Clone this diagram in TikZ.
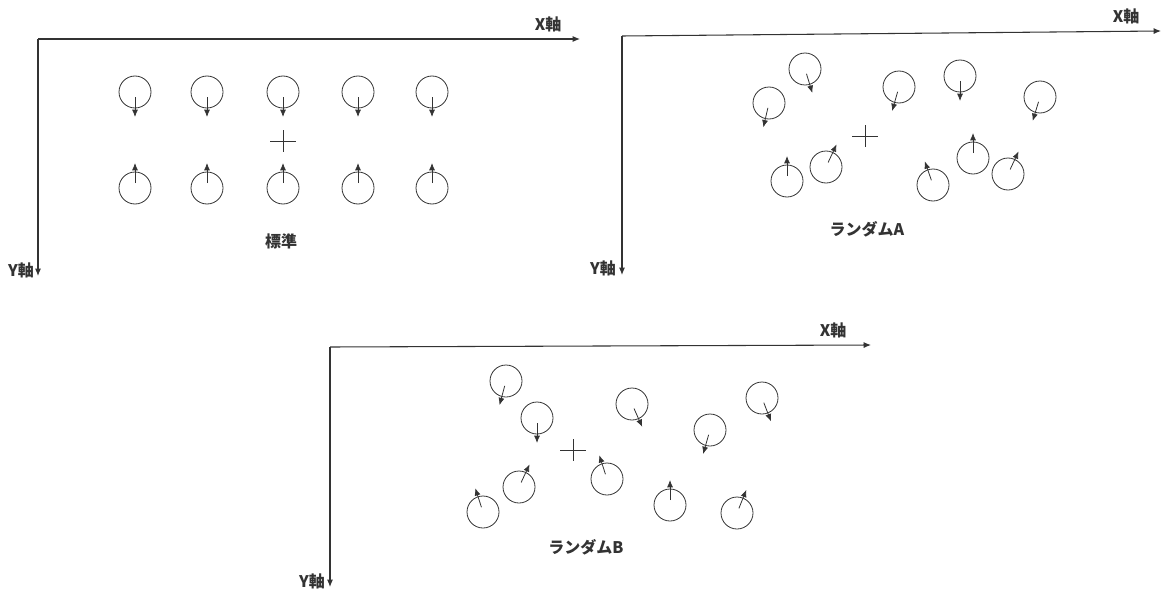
\documentclass[tikz,border=0pt]{standalone}
\usepackage{fontspec}
\setmainfont{Noto Sans CJK JP}
\usetikzlibrary{calc,arrows.meta}
\begin{document}
\begin{tikzpicture}[x=0.75pt,y=-0.75pt,
  ink/.style={black!80},
  axis/.style={ink,line width=0.8pt,-{Latex[length=5.5pt,width=4.5pt]}},
  spin/.style={ink,circle,draw,line width=0.6pt,minimum size=24pt,inner sep=0pt},
  vec/.style={ink,line width=0.6pt,-{Latex[length=5.5pt,width=4.5pt]}},
  cross/.style={ink,line width=0.6pt},
  lbl/.style={ink,font=\fontsize{12}{14}\selectfont\bfseries,inner sep=0pt}]
\useasboundingbox (0,0) rectangle (1166,592);
% ---------- panel 1 ----------
\coordinate (o1) at (38,39);
\coordinate (x1) at (580,39);
\coordinate (y1) at (38,276);
\draw[axis] (o1) -- (x1);
\draw[axis] (o1) -- (y1);
\node[lbl] (xl1) at (548,24) {X軸};
\node[lbl] (yl1) at (21,270) {Y軸};
\node[lbl] (t1) at (281,241) {標準};
\coordinate (k1) at (283,141);
\draw[cross] ($(k1)+(-13,0)$) -- ($(k1)+(13,0)$);
\draw[cross] ($(k1)+(0,-11)$) -- ($(k1)+(0,11)$);
\foreach \n/\x/\y/\a in {p1/135/92/90,p2/207/92/90,p3/283/92/90,p4/358/92/90,p5/432/92/90,
                          p6/135/188/-90,p7/207/188/-90,p8/283/188/-90,p9/358/188/-90,p10/432/188/-90}{
  \node[spin] (\n) at (\x,\y) {};
  \draw[vec] ($(\n)+(\a:5)$) -- ($(\n)+(\a:25)$);
}
% ---------- panel 2 ----------
\coordinate (o2) at (622,36);
\coordinate (x2) at (1161,31);
\coordinate (y2) at (622,275);
\draw[axis] (o2) -- (x2);
\draw[axis] (o2) -- (y2);
\node[lbl] (xl2) at (1126,16) {X軸};
\node[lbl] (yl2) at (603,268) {Y軸};
\node[lbl] (t2) at (867,229) {ランダムA};
\coordinate (k2) at (865,136);
\draw[cross] ($(k2)+(-13,0)$) -- ($(k2)+(13,0)$);
\draw[cross] ($(k2)+(0,-11)$) -- ($(k2)+(0,11)$);
\foreach \n/\x/\y/\a in {q1/805/69/73,q2/769/103/103,q3/899/87/106,q4/960/76/90,q5/1040/97/107,
                          q6/787/181/-90,q7/826/167/-65,q8/933/185/-109,q9/973/158/-90,q10/1008/174/-65}{
  \node[spin] (\n) at (\x,\y) {};
  \draw[vec] ($(\n)+(\a:5)$) -- ($(\n)+(\a:25)$);
}
% ---------- panel 3 ----------
\coordinate (o3) at (330,347);
\coordinate (x3) at (871,345);
\coordinate (y3) at (330,587);
\draw[axis] (o3) -- (x3);
\draw[axis] (o3) -- (y3);
\node[lbl] (xl3) at (833,330) {X軸};
\node[lbl] (yl3) at (312,581) {Y軸};
\node[lbl] (t3) at (586,547) {ランダムB};
\coordinate (k3) at (573,450);
\draw[cross] ($(k3)+(-13,0)$) -- ($(k3)+(13,0)$);
\draw[cross] ($(k3)+(0,-11)$) -- ($(k3)+(0,11)$);
\foreach \n/\x/\y/\a in {r1/506/381/105,r2/537/418/90,r3/632/404/66,r4/710/430/106,r5/762/398/69,
                          r6/483/512/-108,r7/519/487/-65,r8/607/479/-108,r9/670/505/-90,r10/737/513/-68}{
  \node[spin] (\n) at (\x,\y) {};
  \draw[vec] ($(\n)+(\a:5)$) -- ($(\n)+(\a:25)$);
}
\end{tikzpicture}
\end{document}
